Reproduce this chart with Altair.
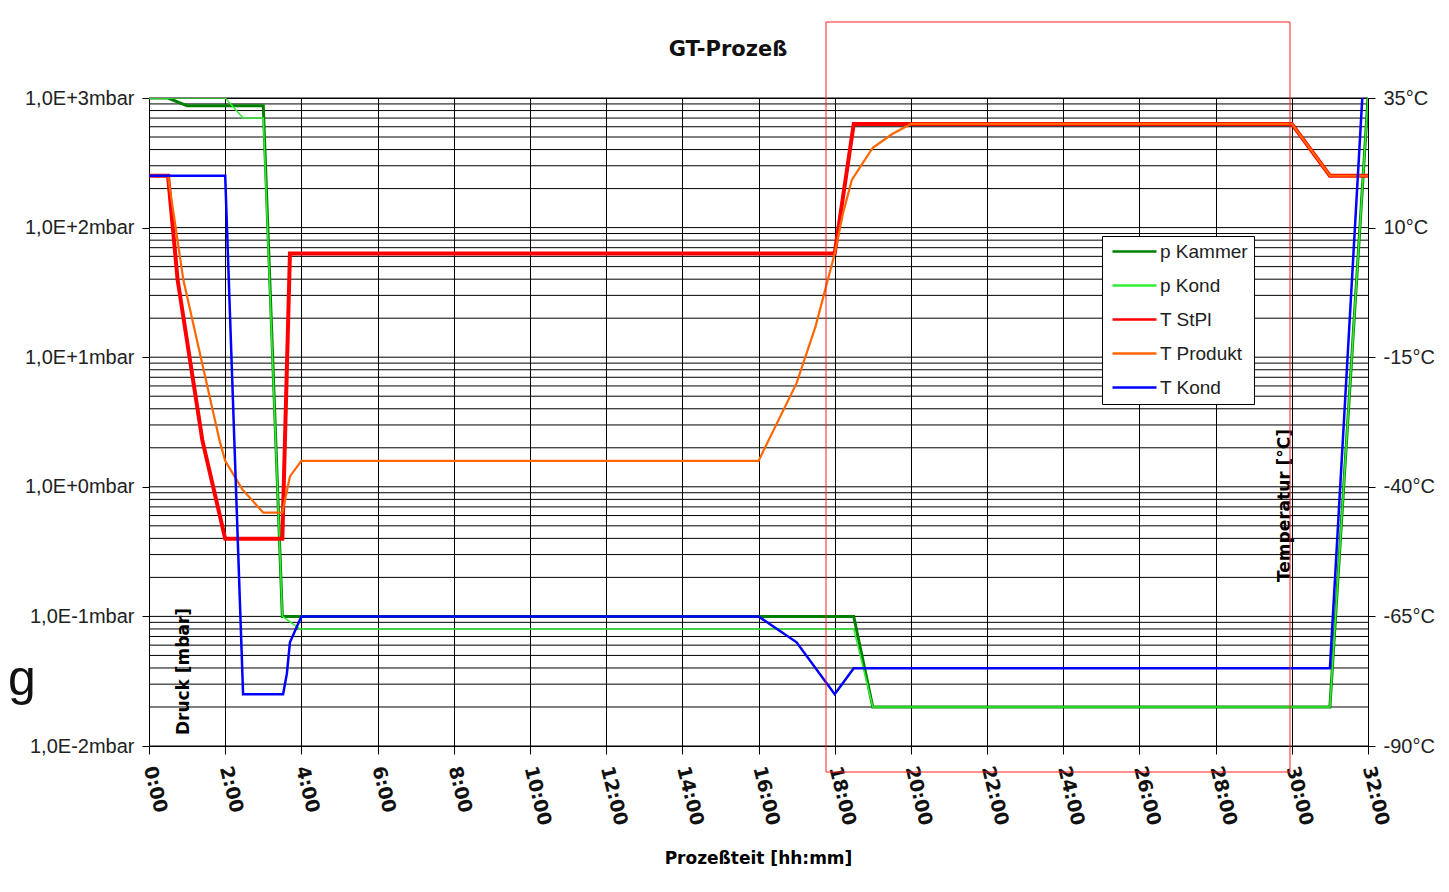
import altair as alt
import pandas as pd

# ---- data ----
series_names = ["p Kammer", "p Kond", "T StPl", "T Produkt", "T Kond"]
series_colors = ["#008000", "#33ee33", "#ff0000", "#ff6600", "#0000ff"]

t_kammer = [0, 0.5, 1.0, 3.0, 3.5, 18.5, 19.0, 31.0, 32.0]
p_kammer = [1000, 1000, 870, 870, 0.1, 0.1, 0.02, 0.02, 1000]

t_pkond = [0, 2.0, 2.47, 3.0, 3.5, 3.96, 18.5, 19.0, 31.0, 32.0]
p_pkond = [1000, 1000, 700, 700, 0.1, 0.08, 0.08, 0.02, 0.02, 1000]

t_stpl = [0, 0.5, 0.75, 1.4, 2.0, 3.5, 3.7, 18.0, 18.5, 30.0, 31.0, 32.0]
T_stpl = [20, 20, 0, -31, -50, -50, 5, 5, 30, 30, 20, 20]

t_prod = [0, 0.5, 0.9, 1.85, 2.0, 2.45, 3.0, 3.5, 3.7, 4.0, 16.0, 17.0, 17.5,
          18.0, 18.22, 18.45, 18.74, 19.0, 19.5, 20.0, 30.0, 31.0, 32.0]
T_prod = [20, 20, 0, -31, -35, -40.5, -45, -45, -38, -35, -35, -20, -9,
          5, 12.8, 19.2, 22.5, 25.4, 28, 30, 30, 20, 20]

t_tkond = [0, 2.0, 2.47, 3.52, 3.62, 3.7, 4.0, 16.0, 17.0, 18.0, 18.5, 31.0, 31.85]
T_tkond = [20, 20, -80, -80, -76, -70, -65, -65, -70, -80, -75, -75, 35]

x_ticks = list(range(0, 33, 2))
p_ticks = [0.01, 0.1, 1, 10, 100, 1000]
T_ticks = [-90, -65, -40, -15, 10, 35]

# log minor grid positions (1..9 per decade)
p_grid = [m * 10.0 ** k for k in range(-2, 3) for m in range(1, 10)] + [1000]


def frame(name, ts, vs):
    return pd.DataFrame({"t": ts, "v": vs, "series": name})


df = pd.concat([
    frame("p Kammer", t_kammer, p_kammer),
    frame("p Kond", t_pkond, p_pkond),
    frame("T StPl", t_stpl, T_stpl),
    frame("T Produkt", t_prod, T_prod),
    frame("T Kond", t_tkond, T_tkond),
], ignore_index=True)

grid_df = pd.DataFrame({"g": p_grid})
one = pd.DataFrame({"label": ["GT-Prozeß"]})
gdf = pd.DataFrame({"label": ["g"]})
box = pd.DataFrame({"a": [0]})

# ---- scales & axes ----
W, H = 1219, 648
x_scale = alt.Scale(domain=[0, 32], nice=False, zero=False)
p_scale = alt.Scale(type="log", domain=[0.01, 1000], nice=False)
T_scale = alt.Scale(domain=[-90, 35], nice=False, zero=False)

x_axis = alt.Axis(
    values=x_ticks, labelExpr="datum.value + ':00'", labelAngle=76,
    labelAlign="left", labelBaseline="middle", labelFlush=False, labelOverlap=False,
    labelFont="DejaVu Sans", labelFontSize=19, labelFontWeight="bold", labelColor="#111111",
    labelPadding=12, tickSize=8, tickColor="black", domainColor="black",
    grid=True, gridColor="black", gridWidth=1, gridOpacity=1,
    title="Prozeßteit [hh:mm]", titleX=609, titleY=112, titleBaseline="middle",
    titleAlign="center", titleFont="DejaVu Sans", titleFontSize=17,
    titleFontWeight="bold", titleColor="black",
)

p_axis = alt.Axis(
    orient="left", values=p_ticks,
    labelExpr="'1,0E' + (datum.value >= 1 ? '+' : '-') + format(abs(log(datum.value) / LN10), '.0f') + 'mbar'",
    labelFont="Liberation Sans", labelFontSize=20, labelColor="#222222",
    labelFlush=False, labelPadding=8, tickSize=7, tickColor="black",
    domainColor="black", grid=False,
    title="Druck [mbar]", titleX=34, titleY=573, titleAngle=270,
    titleAlign="center", titleBaseline="middle", titleFont="DejaVu Sans",
    titleFontSize=17, titleFontWeight="bold", titleColor="black",
)

T_axis = alt.Axis(
    orient="right", values=T_ticks, labelExpr="datum.value + '°C'",
    labelFont="Liberation Sans", labelFontSize=20, labelColor="#222222",
    labelFlush=False, labelPadding=8, tickSize=7, tickColor="black",
    domainColor="black", grid=False,
    title="Temperatur [°C]", titleX=-84, titleY=407, titleAngle=270,
    titleAlign="center", titleBaseline="middle", titleFont="DejaVu Sans",
    titleFontSize=17, titleFontWeight="bold", titleColor="black",
)

color_enc = alt.Color(
    "series:N",
    scale=alt.Scale(domain=series_names, range=series_colors),
    title=None,
    legend=alt.Legend(
        orient="none", legendX=953, legendY=138,
        symbolType="M-1.0,0H7.8", symbolSize=100, symbolStrokeWidth=2.5,
        labelFont="Liberation Sans", labelFontSize=19, labelColor="#222222",
        labelOffset=33, rowPadding=14, padding=6,
        strokeColor="black", fillColor="white", cornerRadius=0, labelLimit=300,
    ),
)

widths = {"p Kammer": 3, "p Kond": 1.5, "T StPl": 4, "T Produkt": 2.2, "T Kond": 2.5}


def line_layer(name, y_scale, y_axis):
    return (
        alt.Chart(df)
        .transform_filter(alt.datum.series == name)
        .mark_line(strokeWidth=widths[name], strokeJoin="miter", clip=True)
        .encode(
            x=alt.X("t:Q", scale=x_scale, axis=x_axis),
            y=alt.Y("v:Q", scale=y_scale, axis=y_axis),
            color=color_enc,
            order=alt.Order("t:Q"),
        )
    )


grid_rules = (
    alt.Chart(grid_df)
    .mark_rule(color="black", strokeWidth=1)
    .encode(y=alt.Y("g:Q", scale=p_scale, axis=p_axis))
)

pressure = alt.layer(
    grid_rules,
    line_layer("p Kammer", p_scale, p_axis),
    line_layer("p Kond", p_scale, p_axis),
)

red_box = (
    alt.Chart(box)
    .mark_rect(fillOpacity=0, stroke="#ff2020", strokeWidth=1)
    .encode(x=alt.value(677), x2=alt.value(1141), y=alt.value(-76), y2=alt.value(674))
)

title_text = (
    alt.Chart(one)
    .mark_text(font="DejaVu Sans", fontSize=21, fontWeight="bold", color="#111111",
               align="center", baseline="middle")
    .encode(text="label:N", x=alt.value(579), y=alt.value(-48))
)

g_text = (
    alt.Chart(gdf)
    .mark_text(font="Liberation Sans", fontSize=50, color="#111111",
               align="left", baseline="alphabetic")
    .encode(text="label:N", x=alt.value(-141), y=alt.value(597))
)

temperature = alt.layer(
    line_layer("T StPl", T_scale, T_axis),
    line_layer("T Produkt", T_scale, T_axis),
    line_layer("T Kond", T_scale, T_axis),
    red_box,
    title_text,
    g_text,
)

chart = (
    alt.layer(pressure, temperature)
    .resolve_scale(y="independent")
    .properties(
        width=W, height=H,
        autosize=alt.AutoSizeParams(type="none"),
        padding={"left": 141, "top": 90, "right": 73, "bottom": 130},
        background="white",
    )
    .configure_view(stroke="black", strokeWidth=1)
)

chart.save("out.html", embed_options={"renderer": "svg", "actions": False})
